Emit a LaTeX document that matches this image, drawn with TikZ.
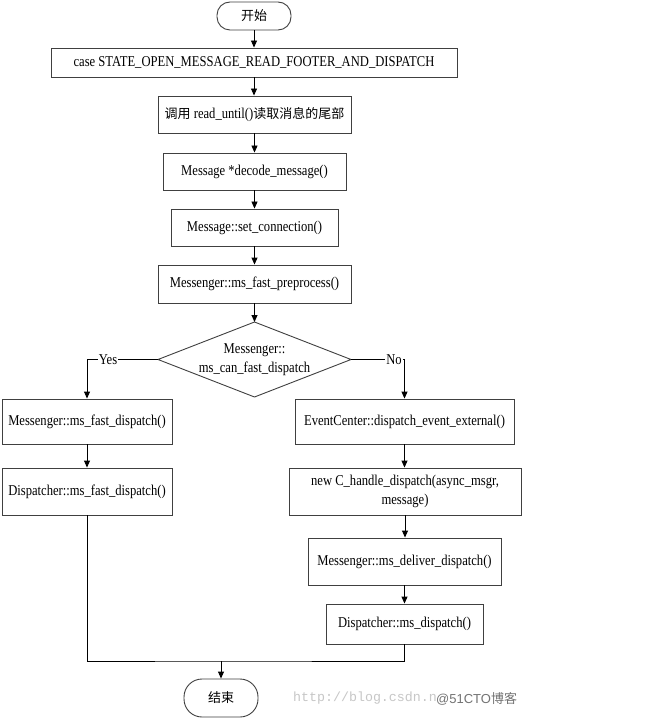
\documentclass[tikz,border=0pt]{standalone}
\usepackage{fontspec}
\setmainfont{Liberation Serif}[FakeStretch=0.84]
\newfontfamily\cjk{Noto Sans CJK SC}
\newfontfamily\wmono{Liberation Mono}
\newfontfamily\wsans{Liberation Sans}
\usetikzlibrary{arrows.meta}
\tikzset{
  box/.style={draw=black!75, line width=0.9pt, fill=white, inner sep=0pt, align=center, font=\fontsize{15}{19}\selectfont},
  term/.style={box, font=\cjk\fontsize{13}{16}\selectfont},
  arr/.style={-{Triangle[length=7pt,width=6pt]}, line width=0.9pt},
  ln/.style={line width=0.9pt},
  lab/.style={fill=white, inner sep=1pt, font=\fontsize{15}{19}\selectfont},
}
\begin{document}
\begin{tikzpicture}[x=1pt,y=-1pt]
\useasboundingbox[fill=white] (0,0) rectangle (662,719);
\node[term, rounded corners=13pt, minimum width=74pt, minimum height=28pt] (start) at (254,16) {开始};
\node[box, minimum width=406pt, minimum height=29pt] (case) at (254,62.5) {case STATE\_OPEN\_MESSAGE\_READ\_FOOTER\_AND\_DISPATCH};
\node[box, minimum width=193pt, minimum height=37pt] (call) at (254.5,114.5) {{\cjk\fontsize{13}{16}\selectfont 调用} read\_until(){\cjk\fontsize{13}{16}\selectfont 读取消息的尾部}};
\node[box, minimum width=183pt, minimum height=37pt] (decode) at (254.5,171.5) {Message *decode\_message()};
\node[box, minimum width=167pt, minimum height=37pt] (setconn) at (254.5,227.5) {Message::set\_connection()};
\node[box, minimum width=193pt, minimum height=38pt] (prep) at (254.5,284) {Messenger::ms\_fast\_preprocess()};
% decision diamond
\coordinate (dT) at (254.5,322);
\coordinate (dB) at (254.5,397);
\coordinate (dL) at (158,359.5);
\coordinate (dR) at (351,359.5);
\draw[ln, draw=black!75] (dT) -- (dR) -- (dB) -- (dL) -- cycle;
\node[align=center, inner sep=0pt, font=\fontsize{15}{19}\selectfont] (dec) at (254.5,359.5) {Messenger::\\ms\_can\_fast\_dispatch};
% left branch
\node[box, minimum width=170pt, minimum height=45pt] (mfd) at (87,421.5) {Messenger::ms\_fast\_dispatch()};
\node[box, minimum width=170pt, minimum height=47pt] (dfd) at (87,491.5) {Dispatcher::ms\_fast\_dispatch()};
% right branch
\node[box, minimum width=219pt, minimum height=45pt] (ece) at (404.5,421.5) {EventCenter::dispatch\_event\_external()};
\node[box, minimum width=232pt, minimum height=47pt] (newc) at (405,491.5) {new C\_handle\_dispatch(async\_msgr,\\message)};
\node[box, minimum width=193pt, minimum height=47pt] (mdd) at (404.5,561.5) {Messenger::ms\_deliver\_dispatch()};
\node[box, minimum width=157pt, minimum height=40pt] (dmd) at (404.5,624) {Dispatcher::ms\_dispatch()};
\node[term, rounded corners=18pt, minimum width=74pt, minimum height=38pt] (end) at (221,698) {结束};
% connectors
\draw[arr] (start.south) -- (start.south |- case.north);
\draw[arr] (case.south) -- (case.south |- call.north);
\draw[arr] (call.south) -- (call.south |- decode.north);
\draw[arr] (decode.south) -- (decode.south |- setconn.north);
\draw[arr] (setconn.south) -- (setconn.south |- prep.north);
\draw[arr] (prep.south) -- (prep.south |- dT);
\draw[arr] (dL) -| (mfd.north);
\draw[arr] (dR) -| (ece.north);
\node[lab] (yes) at (108,359.5) {Yes};
\node[lab] (no) at (394,359.5) {No};
\draw[arr] (mfd.south) -- (dfd.north);
\draw[arr] (ece.south) -- (ece.south |- newc.north);
\draw[arr] (newc.south) -- (newc.south |- mdd.north);
\draw[arr] (mdd.south) -- (mdd.south |- dmd.north);
\coordinate (mj) at (221,661);
\draw[ln] (dfd.south) |- (mj) -| (dmd.south);
\draw[arr] (mj) -- (end.north);
% watermark
\node[anchor=west, inner sep=0pt, text=black!22, font=\wmono\fontsize{13.3}{16}\selectfont] (wm1) at (293,698) {http://blog.csdn.n};
\node[anchor=west, inner sep=0pt, text=black!55, font=\wsans\fontsize{13}{16}\selectfont] (wm2) at (436,699) {@51CTO{\cjk 博客}};
\end{tikzpicture}
\end{document}
